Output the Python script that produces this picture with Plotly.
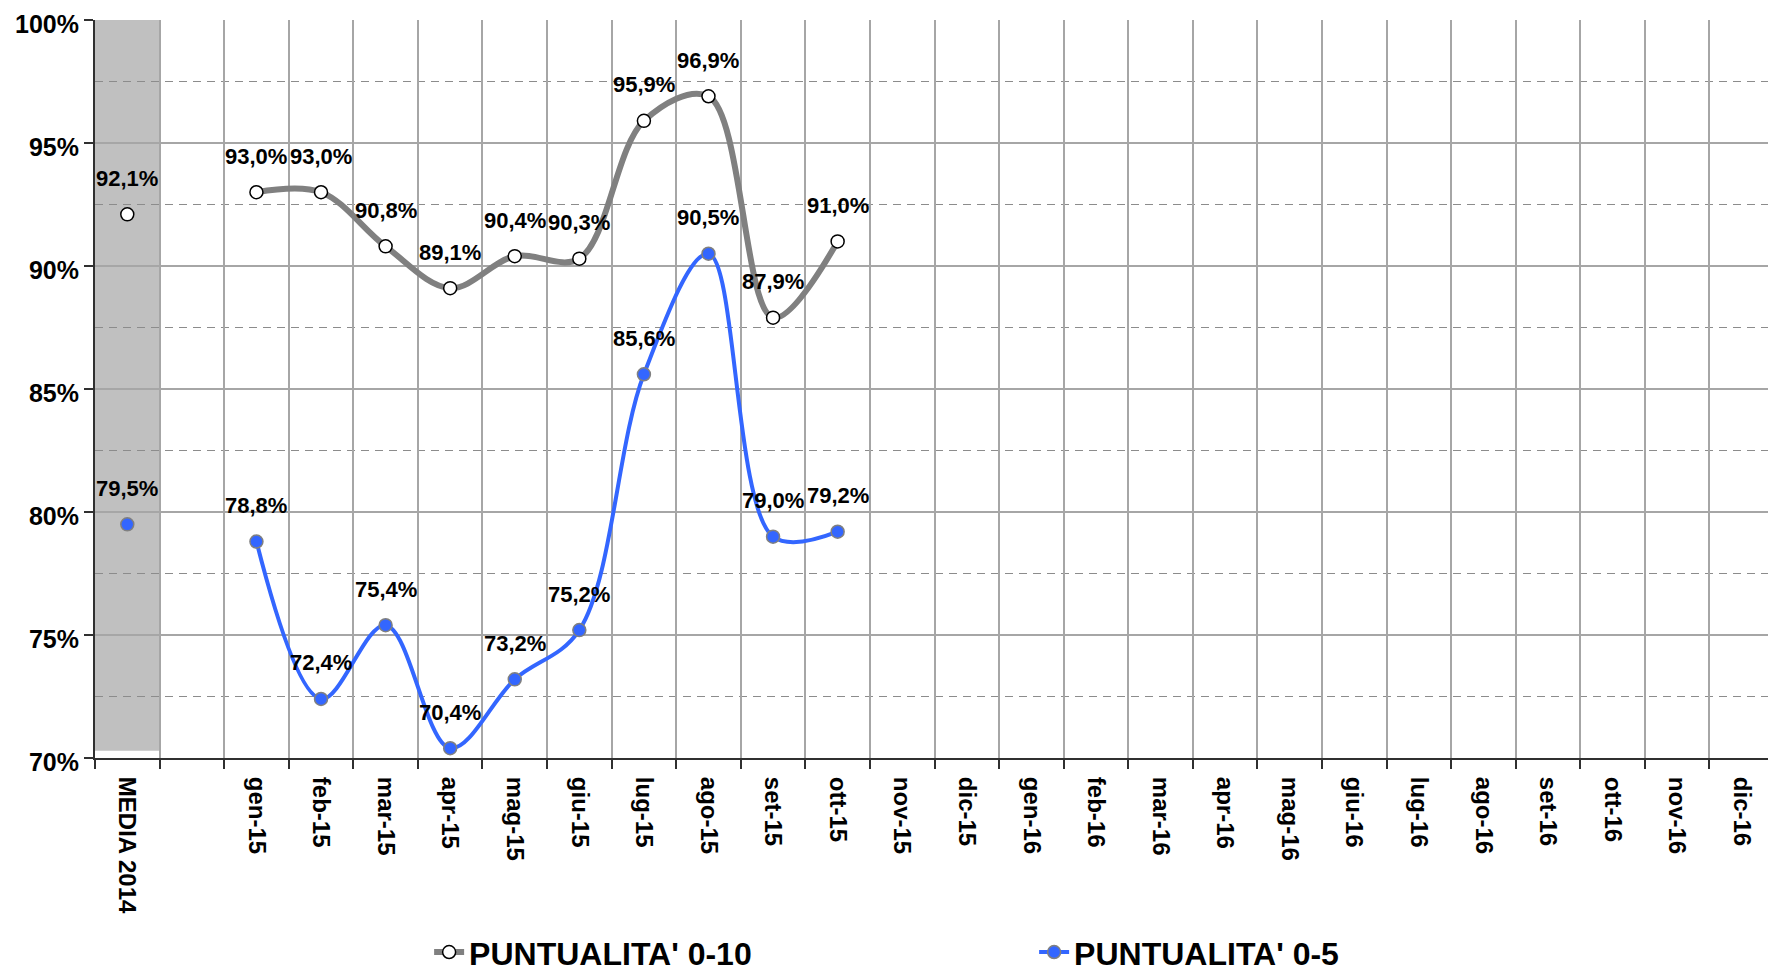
import plotly.graph_objects as go

categories = ["MEDIA 2014", " ",
              "gen-15", "feb-15", "mar-15", "apr-15", "mag-15", "giu-15",
              "lug-15", "ago-15", "set-15", "ott-15", "nov-15", "dic-15",
              "gen-16", "feb-16", "mar-16", "apr-16", "mag-16", "giu-16",
              "lug-16", "ago-16", "set-16", "ott-16", "nov-16", "dic-16"]

punt_0_10 = [92.1, None, 93.0, 93.0, 90.8, 89.1, 90.4, 90.3, 95.9, 96.9, 87.9, 91.0] + [None] * 14
punt_0_5 = [79.5, None, 78.8, 72.4, 75.4, 70.4, 73.2, 75.2, 85.6, 90.5, 79.0, 79.2] + [None] * 14

band_bottom = 70.3
band_top = 100.3

FONT = "Liberation Sans, Arial, sans-serif"

fig = go.Figure()

fig.add_trace(go.Scatter(
    x=categories, y=punt_0_10, name="PUNTUALITA' 0-10",
    mode="lines+markers", line=dict(color="#808080", width=6, shape="spline"),
    marker=dict(size=13, color="white", line=dict(color="black", width=1.5)),
    connectgaps=False, cliponaxis=False,
))
fig.add_trace(go.Scatter(
    x=categories, y=punt_0_5, name="PUNTUALITA' 0-5",
    mode="lines+markers", line=dict(color="#3366ff", width=4, shape="spline"),
    marker=dict(size=13, color="#3366ff", line=dict(color="#808080", width=1.5)),
    connectgaps=False, cliponaxis=False,
))

def fmt(v):
    return f"{v:.1f}%".replace(".", ",")

annotations = []
for series in (punt_0_10, punt_0_5):
    for c, v in zip(categories, series):
        if v is None:
            continue
        annotations.append(dict(
            x=c, y=v, xref="x", yref="y", text=fmt(v), showarrow=False,
            yshift=36, yanchor="middle", xanchor="center",
            font=dict(family=FONT, size=22, color="black", weight="bold"),
        ))

fig.add_shape(type="rect", xref="x", yref="y", x0=-0.5, x1=0.5,
              y0=band_bottom, y1=band_top, fillcolor="#c0c0c0",
              line=dict(width=0), layer="below")

fig.update_layout(
    width=1768, height=968,
    margin=dict(l=87, r=2, t=12, b=20, autoexpand=False),
    paper_bgcolor="white", plot_bgcolor="white",
    showlegend=True,
    legend=dict(orientation="h", x=0.199, xanchor="left", y=0.004, yanchor="middle",
                font=dict(family=FONT, size=32, color="black", weight="bold"),
                entrywidth=560, entrywidthmode="pixels", bgcolor="rgba(0,0,0,0)"),
    annotations=annotations,
    font=dict(family=FONT, color="black"),
)

fig.update_xaxes(
    type="category", categoryorder="array", categoryarray=categories,
    tickson="boundaries", ticks="outside", ticklen=9, tickwidth=1.5, tickcolor="#303030",
    showgrid=True, gridcolor="#a6a6a6", gridwidth=2,
    showline=True, linecolor="#303030", linewidth=2,
    tickangle=90, tickfont=dict(family=FONT, size=24, color="black", weight="bold"),
    ticklabelstandoff=12, automargin=False,
    range=[-0.5, 25.5], fixedrange=True,
)
fig.update_yaxes(
    domain=[0.2115, 1],
    range=[70, 100], dtick=5, tick0=70, ticksuffix="%",
    ticks="outside", ticklen=9, tickwidth=1.5, tickcolor="#303030",
    showgrid=True, gridcolor="#a6a6a6", gridwidth=2,
    showline=True, linecolor="#303030", linewidth=2,
    zeroline=False, ticklabeloverflow="allow", automargin=False,
    ticklabelshift=4,
    tickfont=dict(family=FONT, size=25, color="black", weight="bold"),
    minor=dict(dtick=2.5, tick0=70, showgrid=True, gridcolor="#8c8c8c", gridwidth=1, griddash="8px,6px"),
    fixedrange=True,
)

fig.write_html("out.html")
